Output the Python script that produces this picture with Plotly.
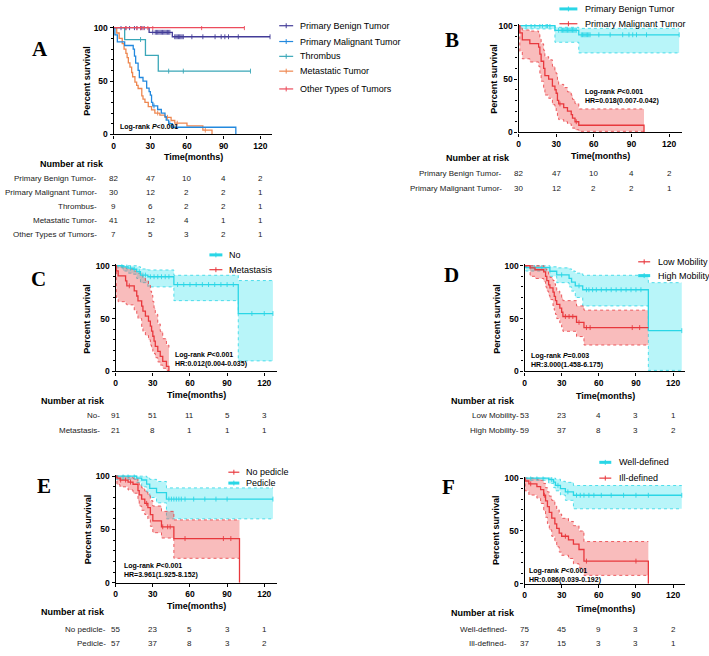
import plotly.graph_objects as go

W, H = 709, 656

# ---------------- DATA ----------------
ticks_x = [0, 30, 60, 90, 120]

# Panel A
A_benign_t = [0, 29, 48, 128]
A_benign_s = [100, 95.7, 91.5, 91.5]
A_benign_c = [6, 10, 13, 17, 19, 22, 23, 25, 32, 34, 35, 36, 37, 38, 39, 40, 41, 42, 43, 44, 45, 46,
              50, 51, 52, 53, 54, 55, 56, 57, 64, 73, 83, 88, 91, 94, 102, 128]
A_malig_t = [0, 1, 3, 9, 16, 17, 18, 20, 21, 24, 27, 29, 30, 31, 32, 36, 39, 42, 43, 45, 48, 100]
A_malig_s = [100, 93.3, 86.7, 83.3, 80, 73.3, 66.7, 60, 53.3, 50, 43.3, 40, 36.7, 30, 26.7, 23.3, 20, 16.7, 13.3, 10, 6.7, 0]
A_malig_c = [33, 46]
A_thromb_t = [0, 9, 26, 36.5, 112]
A_thromb_s = [100, 88.9, 74.1, 59.3, 59.3]
A_thromb_c = [22, 45, 57, 112]
A_meta_t = [0, 2.5, 4.5, 7, 8.5, 10, 11, 12, 13.3, 14.7, 15.5, 17.4, 18.8, 20, 23, 24, 25.6, 28.3, 31, 33.7, 37.8, 42, 47, 50, 60, 73, 80.5]
A_meta_s = [100, 95, 90, 85, 80, 76, 72, 67, 63, 58, 54, 49, 46, 43, 36, 33, 30, 26, 23, 20, 18, 16, 13, 10.5, 8, 4, 0]
A_meta_c = [36, 44, 52, 75]
A_other_t = [0, 107]
A_other_s = [100, 100]
A_other_c = [10, 19, 22, 24, 28, 32, 72, 107]
A_labels = ["Primary Benign Tumor", "Primary Malignant Tumor", "Thrombus", "Metastatic Tumor", "Other Types of Tumors"]
A_risk = [[82, 47, 10, 4, 2], [30, 12, 2, 2, 1], [9, 6, 2, 2, 1], [41, 12, 4, 1, 1], [7, 5, 3, 2, 1]]

# Panel B
B_benign_t = [0, 29, 48, 128]
B_benign_s = [100, 95.7, 91.5, 91.5]
B_benign_lo = [97, 84.5, 74.5, 74.5]
B_benign_hi = [100, 98.5, 97.5, 97.5]
B_benign_c = A_benign_c
B_malig_t = [0, 1, 3, 9, 16, 17, 18, 20, 21, 24, 27, 29, 30, 31, 32, 36, 39, 42, 43, 45, 48, 100]
B_malig_s = [100, 93.3, 86.7, 83.3, 80, 73.3, 66.7, 60, 53.3, 50, 43.3, 40, 36.7, 30, 26.7, 23.3, 20, 16.7, 13.3, 10, 6.7, 0]
B_malig_lo = [100, 76, 69, 66, 62, 55, 48, 41, 35, 32, 26, 23, 20, 15, 12, 10, 8, 6, 4, 2.5, 1, 1]
B_malig_hi = [100, 99, 96, 95, 93, 88, 83, 77, 71, 68, 62, 58, 55, 49, 45, 42, 38, 35, 31, 27, 22, 22]
B_malig_c = [33, 46]
B_labels = ["Primary Benign Tumor", "Primary Malignant Tumor"]
B_risk = [[82, 47, 10, 4, 2], [30, 12, 2, 2, 1]]

# Panel C
C_no_t = [0, 6, 10, 14, 17, 20, 26, 47, 99, 127]
C_no_s = [100, 98.9, 97.8, 96.7, 94.4, 91.2, 89.6, 82.2, 54.8, 54.8]
C_no_lo = [98, 95, 93, 92, 88, 84, 80, 67, 10, 10]
C_no_hi = [100, 100, 100, 100, 99, 97, 96, 91, 86, 86]
C_no_c = [5, 9, 12, 15, 19, 22, 24, 28, 31, 34, 37, 40, 43, 50, 55, 60, 65, 70, 75, 80, 85, 90, 95, 110, 120, 127]
C_met_t = [0, 0.5, 2, 8, 9, 15, 17, 18, 21, 22, 24, 26.5, 28, 29, 30, 31, 32, 34, 36, 38, 41, 43]
C_met_s = [100, 95.2, 90.5, 85.7, 81, 76.2, 71.4, 66.7, 61.9, 57.1, 52.4, 47.6, 42.9, 38.1, 33.3, 28.6, 23.8, 19, 14.3, 9.5, 4.8, 0]
C_met_lo = [100, 70, 66, 64, 63, 58, 54, 50, 42, 38, 34, 30, 25, 22, 19, 17, 13, 9, 6, 3, 1, 1]
C_met_hi = [100, 100, 99, 98, 97, 95, 94, 93, 91, 89, 86, 82, 76, 72, 66, 60, 54, 45, 38, 31, 25, 20]
C_met_c = [11]
C_labels = ["No", "Metastasis"]
C_risk = [[91, 51, 11, 5, 3], [21, 8, 1, 1, 1]]

# Panel D
D_low_t = [0, 4.5, 8.5, 15.5, 17, 18, 19.5, 20.5, 23, 24, 25, 26, 28.5, 30, 31, 42, 48, 100]
D_low_s = [100, 98, 96.2, 94.2, 90, 86, 82, 79, 75, 71, 67, 63.5, 60, 56, 52, 46.5, 41.5, 41.5]
D_low_lo = [100, 90, 88, 85, 80, 76, 72, 68, 62, 58, 54, 50, 46, 42, 38, 33, 25, 25]
D_low_hi = [100, 100, 100, 99, 97, 95, 92, 89, 86, 83, 80, 76, 73, 70, 67, 62, 58, 58]
D_low_c = [33, 36, 39, 44, 50, 53, 87, 93]
D_high_t = [0, 1, 20.5, 26, 36, 38, 41, 47, 100, 127]
D_high_s = [100, 98.3, 94.8, 91.4, 88, 84.5, 81, 77.3, 38.6, 38.6]
D_high_lo = [100, 95, 90, 84, 80, 76, 70, 62, 1, 1]
D_high_hi = [100, 100, 99, 98, 97, 95, 93, 91, 84, 84]
D_high_c = [8, 14, 30, 44, 50, 52, 55, 58, 62, 66, 70, 74, 78, 82, 86, 90, 94, 127]
D_labels = ["Low Mobility", "High Mobility"]
D_risk = [[53, 23, 4, 3, 1], [59, 37, 8, 3, 2]]

# Panel E
E_nop_t = [0, 1, 3.5, 10, 14, 18, 19, 21, 23.5, 26, 28, 30, 37, 47, 100]
E_nop_s = [100, 98.2, 96.3, 94.4, 92.4, 86.5, 82.5, 78.5, 74.5, 70.5, 64, 58, 52.5, 41.5, 0]
E_nop_lo = [100, 92, 90, 87, 84, 77, 72, 68, 64, 60, 53, 47, 42, 23, 23]
E_nop_hi = [100, 100, 100, 99, 98, 95, 92, 89, 86, 83, 77, 72, 67, 59, 59]
E_nop_c = [4, 8, 12, 25, 38, 42, 44, 56, 87, 93]
E_ped_t = [0, 17, 21, 25, 27.5, 33, 41, 127]
E_ped_s = [100, 98.2, 96.4, 92.5, 88.5, 84.5, 78.5, 78.5]
E_ped_lo = [97, 94, 90, 85, 80, 75, 60, 60]
E_ped_hi = [100, 100, 100, 99, 97, 95, 89, 89]
E_ped_c = [6, 10, 15, 43, 45, 47, 49, 51, 53, 56, 63, 72, 81, 90, 127]
E_labels = ["No pedicle", "Pedicle"]
E_risk = [[55, 23, 5, 3, 1], [57, 37, 8, 3, 2]]

# Panel F
F_well_t = [0, 19.5, 23.5, 25, 29, 33, 39.5, 127]
F_well_s = [100, 98.6, 96.2, 93.2, 90, 87, 83.8, 83.8]
F_well_lo = [98, 95, 91, 88, 84, 79, 71, 71]
F_well_hi = [100, 100, 100, 99, 97, 96, 93, 93]
F_well_c = [5, 10, 15, 22, 27, 35, 42, 45, 48, 52, 56, 62, 70, 80, 90, 100, 127]
F_ill_t = [0, 0.5, 3.5, 10, 13, 15.5, 17, 18.5, 20, 22, 24.5, 26, 28, 30, 35.5, 39.5, 44, 48, 100]
F_ill_s = [100, 97.3, 94.6, 91.9, 89.2, 83.8, 78.4, 73, 67.6, 62.2, 56.8, 52.5, 48, 45, 41.5, 37.5, 32.5, 21.5, 0]
F_ill_lo = [100, 88, 84, 81, 76, 69, 63, 57, 51, 45, 40, 35, 30, 27, 24, 19, 15, 8, 8]
F_ill_hi = [100, 100, 100, 99, 98, 95, 91, 87, 83, 79, 74, 70, 66, 62, 59, 55, 50, 40, 40]
F_ill_c = [5, 16, 33, 50, 90]
F_labels = ["Well-defined", "Ill-defined"]
F_risk = [[75, 45, 9, 3, 2], [37, 15, 3, 3, 1]]

# ---------------- STYLE ----------------
FONT = "Liberation Sans, Arial, sans-serif"
SERIF = "Liberation Serif, Times New Roman, serif"
CYAN = "#2ad6e6"
CYAN_FILL = "rgba(40,225,238,0.33)"
RED = "#e8383d"
RED_FILL = "rgba(238,80,80,0.38)"
A_COLORS = ["#433c98", "#2389de", "#3aa7b8", "#ee8750", "#ec4c5c"]

XMAX = 130
YMAX = 101.5


def PX(x):
    return x / W


def PY(y):
    return 1 - y / H


fig = go.Figure()

# panel geometry (pixel positions of x=0, x=120, y=0, y=100)
panels = [
    dict(x0=112, x120=259, y0=133, y100=25),
    dict(x0=518, x120=669, y0=131, y100=23),
    dict(x0=114, x120=263, y0=373, y100=266),
    dict(x0=524, x120=673, y0=373, y100=266),
    dict(x0=114, x120=263, y0=587, y100=479),
    dict(x0=524, x120=673, y0=588, y100=481),
]

for i, p in enumerate(panels):
    n = "" if i == 0 else str(i + 1)
    sx = (p["x120"] - p["x0"]) / 120
    sy = (p["y0"] - p["y100"]) / 100
    xd = [PX(p["x0"]), PX(p["x0"] + XMAX * sx)]
    yd = [PY(p["y0"]), PY(p["y0"] - YMAX * sy)]
    fig.layout["xaxis" + n] = dict(
        domain=xd, anchor="y" + n, range=[0, XMAX], tickvals=ticks_x,
        ticks="outside", ticklen=3, tickwidth=1.2, tickcolor="black",
        showline=True, linecolor="black", linewidth=1.3, showgrid=False, zeroline=False,
        tickfont=dict(family=FONT, size=8.5, color="black", weight="bold"), fixedrange=True)
    fig.layout["yaxis" + n] = dict(
        domain=yd, anchor="x" + n, range=[0, YMAX], tickvals=[0, 50, 100],
        ticks="outside", ticklen=3, tickwidth=1.2, tickcolor="black",
        minor=dict(dtick=10, tick0=0, ticks="outside", ticklen=2, tickwidth=1, tickcolor="black"),
        showline=True, linecolor="black", linewidth=1.3, showgrid=False, zeroline=False,
        tickfont=dict(family=FONT, size=8.5, color="black", weight="bold"), fixedrange=True)
    p["n"] = n


def surv_at(t, s, x):
    v = s[0]
    for ti, si in zip(t, s):
        if ti <= x:
            v = si
    return v


def add_band(n, t, lo, hi, lcolor, fill):
    ax = dict(xaxis="x" + n, yaxis="y" + n, showlegend=False, hoverinfo="skip")
    fig.add_trace(go.Scatter(x=t, y=lo, mode="lines",
                             line=dict(color=lcolor, width=0.8, dash="dot", shape="hv"), **ax))
    fig.add_trace(go.Scatter(x=t, y=hi, mode="lines", fill="tonexty", fillcolor=fill,
                             line=dict(color=lcolor, width=0.8, dash="dot", shape="hv"), **ax))


def add_curve(n, t, s, cens, color, width=1.3):
    ax = dict(xaxis="x" + n, yaxis="y" + n, showlegend=False, hoverinfo="skip")
    fig.add_trace(go.Scatter(x=t, y=s, mode="lines",
                             line=dict(color=color, width=width, shape="hv"), **ax))
    if cens:
        fig.add_trace(go.Scatter(x=cens, y=[surv_at(t, s, c) for c in cens], mode="markers",
                                 marker=dict(symbol="line-ns", size=3.5,
                                             line=dict(width=0.9, color=color)), **ax))


# Panel A
nA = panels[0]["n"]
add_curve(nA, A_thromb_t, A_thromb_s, A_thromb_c, A_COLORS[2])
add_curve(nA, A_meta_t, A_meta_s, A_meta_c, A_COLORS[3])
add_curve(nA, A_malig_t, A_malig_s, A_malig_c, A_COLORS[1])
add_curve(nA, A_benign_t, A_benign_s, A_benign_c, A_COLORS[0])
add_curve(nA, A_other_t, A_other_s, A_other_c, A_COLORS[4])

# Panel B
nB = panels[1]["n"]
add_band(nB, B_benign_t, B_benign_lo, B_benign_hi, CYAN, CYAN_FILL)
add_band(nB, B_malig_t, B_malig_lo, B_malig_hi, RED, RED_FILL)
add_curve(nB, B_benign_t, B_benign_s, B_benign_c, CYAN)
add_curve(nB, B_malig_t, B_malig_s, B_malig_c, RED)

# Panel C
nC = panels[2]["n"]
add_band(nC, C_no_t, C_no_lo, C_no_hi, CYAN, CYAN_FILL)
add_band(nC, C_met_t, C_met_lo, C_met_hi, RED, RED_FILL)
add_curve(nC, C_no_t, C_no_s, C_no_c, CYAN)
add_curve(nC, C_met_t, C_met_s, C_met_c, RED)

# Panel D
nD = panels[3]["n"]
add_band(nD, D_high_t, D_high_lo, D_high_hi, CYAN, CYAN_FILL)
add_band(nD, D_low_t, D_low_lo, D_low_hi, RED, RED_FILL)
add_curve(nD, D_high_t, D_high_s, D_high_c, CYAN)
add_curve(nD, D_low_t, D_low_s, D_low_c, RED)

# Panel E
nE = panels[4]["n"]
add_band(nE, E_ped_t, E_ped_lo, E_ped_hi, CYAN, CYAN_FILL)
add_band(nE, E_nop_t, E_nop_lo, E_nop_hi, RED, RED_FILL)
add_curve(nE, E_ped_t, E_ped_s, E_ped_c, CYAN)
add_curve(nE, E_nop_t, E_nop_s, E_nop_c, RED)

# Panel F
nF = panels[5]["n"]
add_band(nF, F_well_t, F_well_lo, F_well_hi, CYAN, CYAN_FILL)
add_band(nF, F_ill_t, F_ill_lo, F_ill_hi, RED, RED_FILL)
add_curve(nF, F_well_t, F_well_s, F_well_c, CYAN)
add_curve(nF, F_ill_t, F_ill_s, F_ill_c, RED)

annotations = []
shapes = []


def txt(x, y, text, size=8, bold=False, xanchor="left", family=FONT, angle=0, xref="paper"):
    if bold:
        text = "<b>" + text + "</b>"
    annotations.append(dict(x=x, y=y, xref=xref, yref="paper", text=text, showarrow=False,
                            xanchor=xanchor, yanchor="middle", textangle=angle,
                            font=dict(family=family, size=size, color="black")))


# panel letters
letters = [("A", 38, 47), ("B", 451, 37), ("C", 37, 279), ("D", 451, 275), ("E", 42, 489), ("F", 448, 490)]
for L, x, y in letters:
    txt(PX(x), PY(y), L, size=21, bold=True, xanchor="center", family=SERIF)

# axis titles
ytitles = [(85, 79), (493, 77), (85, 320), (496, 320), (86, 533), (496, 534)]
xtitle_y = [156, 155, 397, 398, 610, 613]
for i, p in enumerate(panels):
    txt(PX(ytitles[i][0]), PY(ytitles[i][1]), "Percent survival", size=9, bold=True,
        xanchor="center", angle=-90)
    annotations.append(dict(x=0.5, y=PY(xtitle_y[i]), xref="x" + p["n"] + " domain", yref="paper",
                            text="<b>Time(months)</b>", showarrow=False, xanchor="center",
                            yanchor="middle", font=dict(family=FONT, size=9, color="black")))

# log-rank annotations
lr = [
    (116, [126], ["Log-rank <i>P</i>&lt;0.001"]),
    (583, [90, 99], ["Log-rank <i>P</i>&lt;0.001", "HR=0.018(0.007-0.042)"]),
    (171, [356, 365], ["Log-rank <i>P</i>&lt;0.001", "HR:0.012(0.004-0.035)"]),
    (528, [357, 366], ["Log-rank <i>P</i>=0.003", "HR:3.000(1.458-6.175)"]),
    (120, [570, 579], ["Log-rank <i>P</i>&lt;0.001", "HR=3.961(1.925-8.152)"]),
    (526, [575, 584], ["Log-rank <i>P</i>&lt;0.001", "HR:0.086(0.039-0.192)"]),
]
for x, ys, texts in lr:
    for y, t in zip(ys, texts):
        txt(PX(x), PY(y), t, size=7, bold=True)


# legends (drawn manually)
def legend_entry(x0, x1, y, tx, label, color, width=1.2):
    shapes.append(dict(type="line", xref="paper", yref="paper", x0=PX(x0), x1=PX(x1),
                       y0=PY(y), y1=PY(y), line=dict(color=color, width=width)))
    xm = (x0 + x1) / 2
    shapes.append(dict(type="line", xref="paper", yref="paper", x0=PX(xm), x1=PX(xm),
                       y0=PY(y - 2.5), y1=PY(y + 2.5), line=dict(color=color, width=1)))
    txt(PX(tx), PY(y), label, size=9)


for lab, col, y in zip(A_labels, A_COLORS, [23, 39, 54, 69, 87]):
    legend_entry(278, 292, y, 297, lab, col)
legend_entry(559, 577, 6, 583, B_labels[0], CYAN, 3)
legend_entry(559, 577, 21, 583, B_labels[1], RED)
legend_entry(208, 221, 255, 226, C_labels[0], CYAN, 3)
legend_entry(208, 221, 270, 226, C_labels[1], RED)
legend_entry(638, 650, 262, 656, D_labels[0], RED)
legend_entry(638, 650, 276, 656, D_labels[1], CYAN, 3)
legend_entry(227, 238, 475, 243, E_labels[0], RED)
legend_entry(227, 238, 486, 243, E_labels[1], CYAN, 3)
legend_entry(599, 611, 465, 617, F_labels[0], CYAN, 3)
legend_entry(599, 611, 481, 617, F_labels[1], RED)

# number-at-risk tables
risk_specs = [
    (0, 36, 163, 97, [178, 192, 206, 220, 234], A_labels, A_risk),
    (1, 443, 157, 503, [173, 188], B_labels, B_risk),
    (2, 37, 403, 100, [418, 433], C_labels, C_risk),
    (3, 448, 403, 520, [418, 433], D_labels, D_risk),
    (4, 37, 617, 106, [634, 648], E_labels, E_risk),
    (5, 448, 618, 508, [634, 648], F_labels, F_risk),
]
for idx, hx, hy, rx, rows, labels, risk in risk_specs:
    n = panels[idx]["n"]
    txt(PX(hx), PY(hy), "Number at risk", size=9, bold=True)
    for y, lab, vals in zip(rows, labels, risk):
        annotations.append(dict(x=PX(rx), y=PY(y), xref="paper", yref="paper", text=lab + "-",
                                showarrow=False, xanchor="right", yanchor="middle",
                                font=dict(family=FONT, size=8, color="#222")))
        for tv, v in zip(ticks_x, vals):
            annotations.append(dict(x=tv, y=PY(y), xref="x" + n, yref="paper", text=str(v),
                                    showarrow=False, xanchor="center", yanchor="middle",
                                    font=dict(family=FONT, size=8, color="#222")))

fig.update_layout(width=W, height=H, margin=dict(l=0, r=0, t=0, b=0),
                  paper_bgcolor="white", plot_bgcolor="white", showlegend=False,
                  annotations=annotations, shapes=shapes)

fig.write_html("out.html")
